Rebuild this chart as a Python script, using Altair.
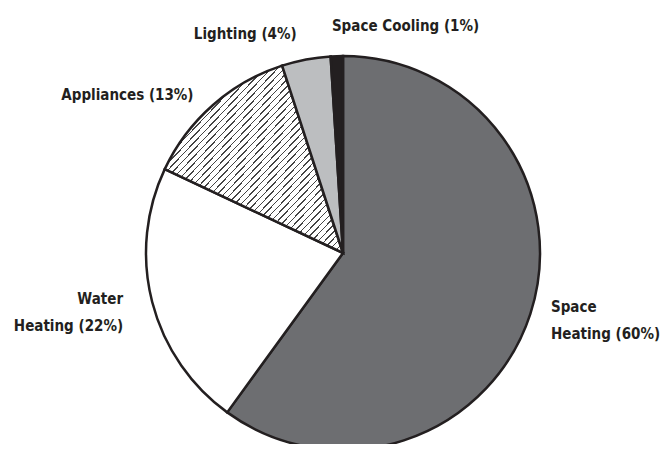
import altair as alt
import pandas as pd

labels = ["Space Heating", "Water Heating", "Appliances", "Lighting", "Space Cooling"]
values = [60, 22, 13, 4, 1]
texts = ["Space\nHeating (60%)", "Water\nHeating (22%)", "Appliances (13%)",
         "Lighting (4%)", "Space Cooling (1%)"]
colors = ["#6d6e71", "#ffffff", "#ffffff", "#bcbec0", "#231f20"]

df = pd.DataFrame({"label": labels, "value": values, "text": texts,
                   "idx": list(range(len(labels)))})

CX, CY, R = 335, 245, 197
INK = "#231f20"
FONT = "DejaVu Sans Condensed, Liberation Sans Narrow, sans-serif"

# diagonal hatch as a hard-stop linear gradient
n_str = 54
stops = [{"offset": 0, "color": "#ffffff"}]
for i in range(n_str):
    a = (i + 0.4) / n_str
    b = a + 0.004
    stops += [{"offset": a, "color": "#ffffff"}, {"offset": a, "color": "#444444"},
              {"offset": b, "color": "#444444"}, {"offset": b, "color": "#ffffff"}]
stops.append({"offset": 1, "color": "#ffffff"})
hatch = {"gradient": "linear", "x1": 0, "y1": 0, "x2": 1, "y2": 1, "stops": stops}

arcs = alt.Chart(df).mark_arc(outerRadius=R, stroke=INK, strokeWidth=2.5).encode(
    theta=alt.Theta("value:Q", stack=True, scale=alt.Scale(domain=[0, 100])),
    order=alt.Order("idx:Q"),
    fill=alt.condition("datum.label == 'Appliances'", alt.value(hatch),
                       alt.Color("label:N", scale=alt.Scale(domain=labels, range=colors),
                                 legend=None)),
    x=alt.value(CX), y=alt.value(CY),
)

label_style = {
    "Space Heating": dict(align="left", dx=-7, dy=-16),
    "Water Heating": dict(align="right", dx=-1, dy=-10),
    "Appliances": dict(align="right", dx=0, dy=12),
    "Lighting": dict(align="right", dx=-4, dy=3),
    "Space Cooling": dict(align="left", dx=-4, dy=-1),
}

layers = [arcs]
for lab in labels:
    st = label_style[lab]
    layers.append(
        alt.Chart(df)
        .transform_window(cum="sum(value)", sort=[alt.SortField("idx")], frame=[None, 0])
        .transform_calculate(mid="datum.cum - datum.value / 2")
        .transform_filter(alt.datum.label == lab)
        .mark_text(radius=226, align=st["align"], baseline="middle", dx=st["dx"], dy=st["dy"],
                   font=FONT, fontSize=15, fontWeight="bold", color=INK,
                   lineBreak="\n", lineHeight=27)
        .encode(theta=alt.Theta("mid:Q", stack=False), text="text:N",
                x=alt.value(CX), y=alt.value(CY))
    )

chart = alt.layer(*layers).properties(
    width=654, height=436, autosize=alt.AutoSizeParams(type="none"), padding=0
).configure_view(stroke=None)

chart.save("out.html", embed_options={"renderer": "svg", "actions": False})
